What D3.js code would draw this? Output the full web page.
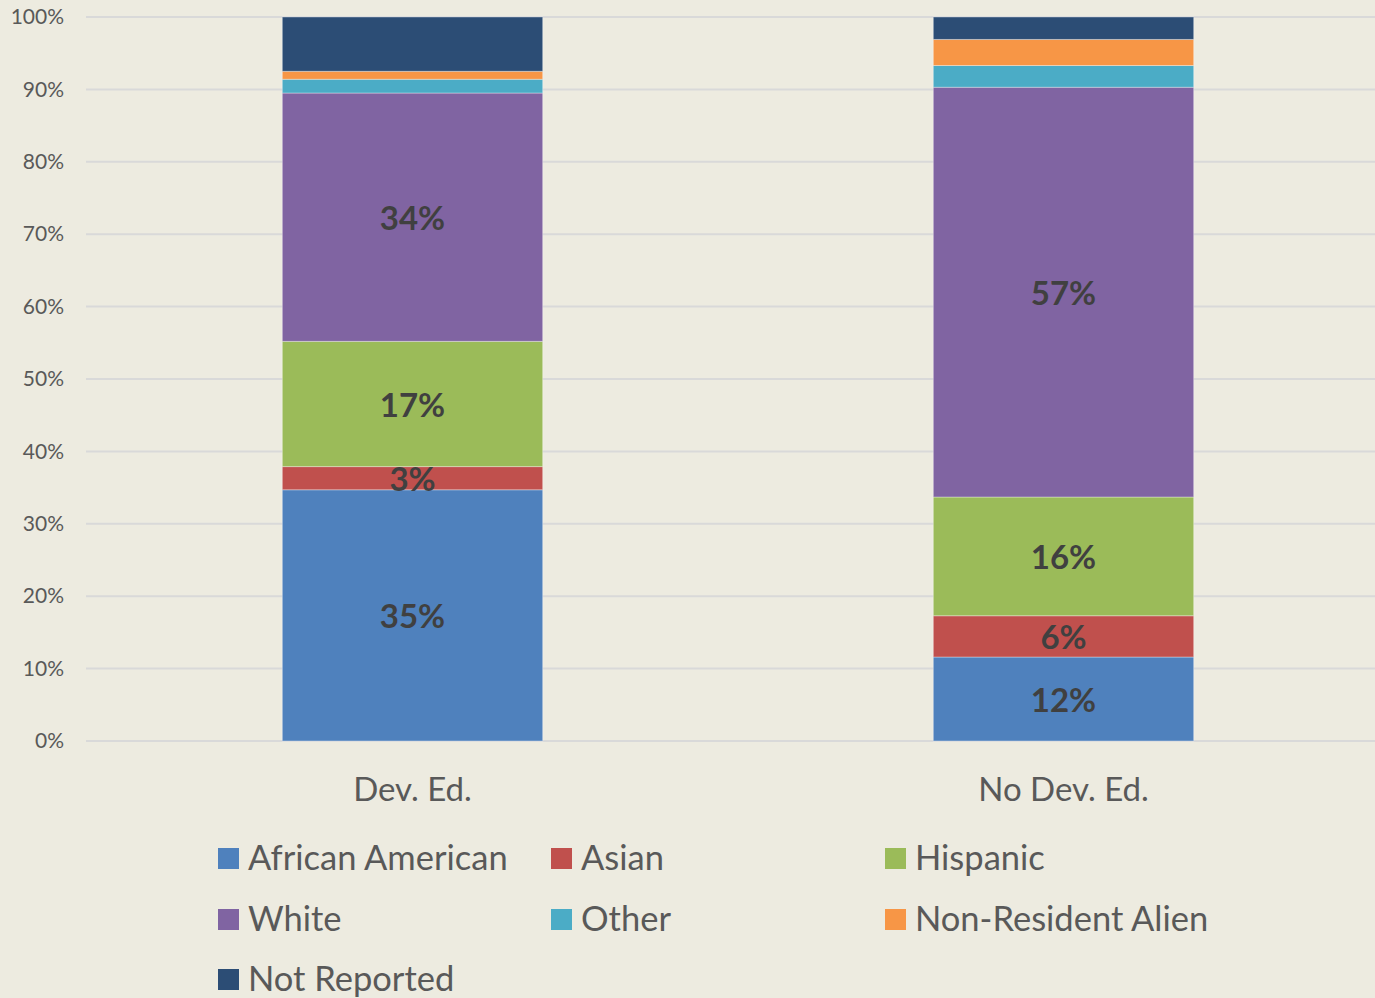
<!DOCTYPE html>
<html>
<head>
<meta charset="utf-8">
<script src="https://cdn.jsdelivr.net/npm/d3@7"></script>
<style>
  body { margin: 0; background: #EDEBE0; }
  svg { display: block; font-family: Lato, "Open Sans", sans-serif; }
</style>
</head>
<body>
<svg width="1375" height="998"></svg>
<script>
var categories = ["Dev. Ed.", "No Dev. Ed."];
var groups = ["African American", "Asian", "Hispanic", "White", "Other", "Non-Resident Alien", "Not Reported"];
var devEd = [34.7, 3.2, 17.3, 34.3, 1.9, 1.1, 7.5];
var noDevEd = [11.6, 5.7, 16.4, 56.6, 3.0, 3.6, 3.1];
var colors = ["#4F81BD", "#C0504D", "#9BBB59", "#8064A2", "#4BACC6", "#F79646", "#2C4D75"];
var labelled = ["African American", "Asian", "Hispanic", "White"];
var yTicks = [0, 10, 20, 30, 40, 50, 60, 70, 80, 90, 100];

var svg = d3.select("svg");

var rows = categories.map(function (c, i) {
  var vals = i === 0 ? devEd : noDevEd;
  var r = { cat: c };
  groups.forEach(function (g, j) { r[g] = vals[j]; });
  return r;
});

var x = d3.scaleBand().domain(categories).range([87, 1389]).paddingInner(0.6).paddingOuter(0.3);
var y = d3.scaleLinear().domain([0, 100]).range([741, 17]);
var color = d3.scaleOrdinal().domain(groups).range(colors);

// gridlines
svg.append("g")
  .selectAll("line")
  .data(yTicks)
  .enter()
  .append("line")
  .attr("x1", 86).attr("x2", 1375)
  .attr("y1", function (d) { return y(d); })
  .attr("y2", function (d) { return y(d); })
  .attr("stroke", "#D9D9D9")
  .attr("stroke-width", 2);

// y axis labels
var yAxis = svg.append("g")
  .attr("transform", "translate(74,0)")
  .call(d3.axisLeft(y).tickValues(yTicks).tickSize(0).tickPadding(10).tickFormat(function (d) { return d + "%"; }));
yAxis.select(".domain").remove();
yAxis.selectAll("text")
  .attr("font-family", "Lato, 'Open Sans', sans-serif")
  .attr("font-size", "21px")
  .attr("fill", "#595959");

var stacked = d3.stack().keys(groups)(rows);

var layer = svg.append("g")
  .selectAll("g")
  .data(stacked)
  .enter()
  .append("g")
  .attr("fill", function (d) { return color(d.key); });

layer.selectAll("rect")
  .data(function (d) { return d; })
  .enter()
  .append("rect")
  .attr("x", function (d) { return x(d.data.cat); })
  .attr("y", function (d) { return y(d[1]); })
  .attr("width", x.bandwidth())
  .attr("height", function (d) { return y(d[0]) - y(d[1]); })
  .attr("stroke", "rgba(255,255,255,0.35)")
  .attr("stroke-width", 1);

// data labels
stacked.filter(function (s) { return labelled.indexOf(s.key) >= 0; }).forEach(function (s) {
  svg.append("g")
    .selectAll("text")
    .data(s)
    .enter()
    .append("text")
    .attr("x", function (d) { return x(d.data.cat) + x.bandwidth() / 2; })
    .attr("y", function (d) { return (y(d[0]) + y(d[1])) / 2; })
    .attr("dy", "0.38em")
    .attr("text-anchor", "middle")
    .attr("font-size", "33px")
    .attr("font-weight", "bold")
    .attr("fill", "#404040")
    .text(function (d) { return Math.round(d[1] - d[0]) + "%"; });
});

// category labels
svg.append("g")
  .selectAll("text")
  .data(categories)
  .enter()
  .append("text")
  .attr("x", function (d) { return x(d) + x.bandwidth() / 2; })
  .attr("y", 801)
  .attr("text-anchor", "middle")
  .attr("font-size", "33px")
  .attr("fill", "#595959")
  .text(function (d) { return d; });

// legend
var legendX = [218, 551, 885];
var legendY = [858, 919, 979];
var legend = svg.append("g")
  .selectAll("g")
  .data(groups)
  .enter()
  .append("g")
  .attr("transform", function (d, i) {
    return "translate(" + legendX[i % 3] + "," + legendY[Math.floor(i / 3)] + ")";
  });
legend.append("rect")
  .attr("x", 0).attr("y", -10)
  .attr("width", 21).attr("height", 21)
  .attr("fill", function (d) { return color(d); });
legend.append("text")
  .attr("x", 30)
  .attr("y", 0)
  .attr("dy", "0.36em")
  .attr("font-size", "34.5px")
  .attr("fill", "#595959")
  .text(function (d) { return d; });
</script>
</body>
</html>
